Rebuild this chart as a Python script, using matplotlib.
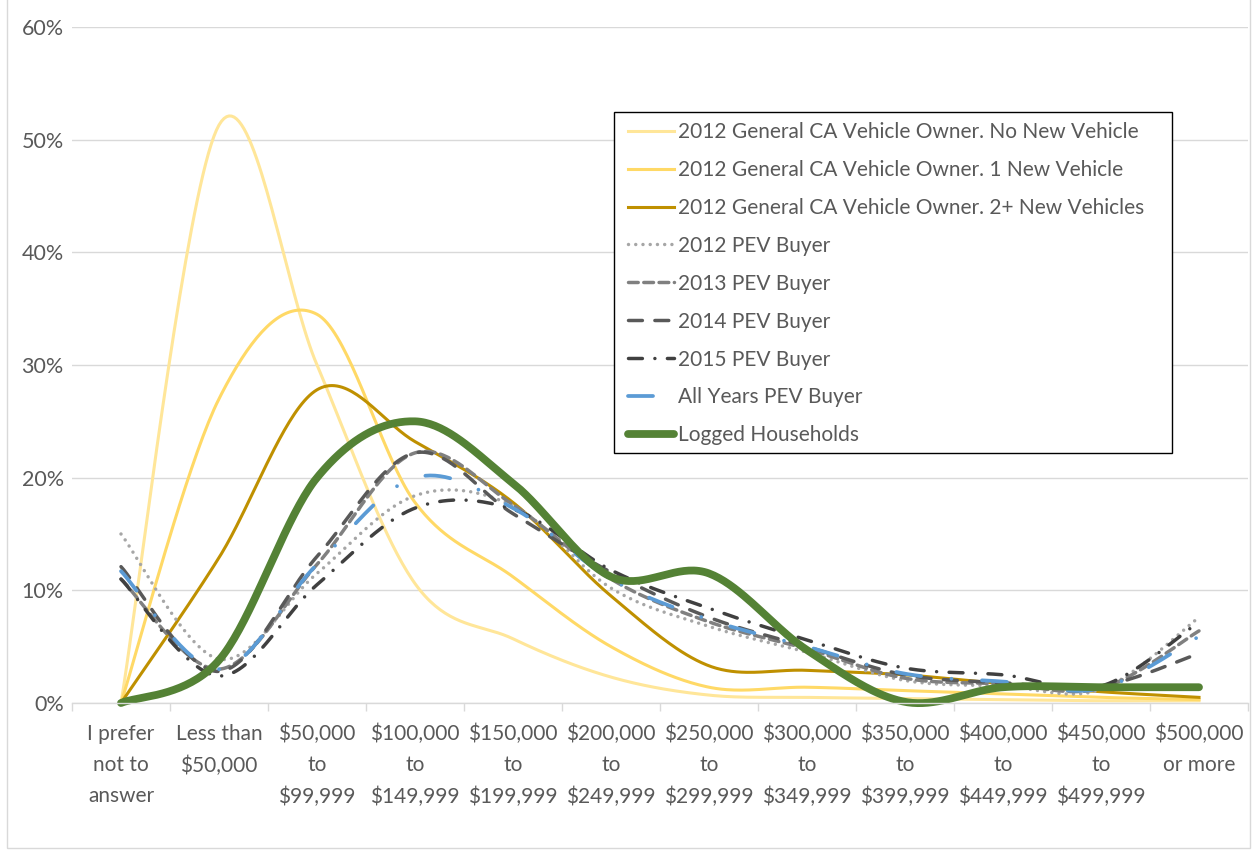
import numpy as np
import matplotlib
matplotlib.use("Agg")
import matplotlib.pyplot as plt
from matplotlib.lines import Line2D
from matplotlib.patches import Rectangle

plt.rcParams['font.family'] = ['Lato', 'DejaVu Sans']
plt.rcParams['lines.scale_dashes'] = False

categories = ["I prefer\nnot to\nanswer", "Less than\n$50,000", "$50,000\nto\n$99,999",
              "$100,000\nto\n$149,999", "$150,000\nto\n$199,999", "$200,000\nto\n$249,999",
              "$250,000\nto\n$299,999", "$300,000\nto\n$349,999", "$350,000\nto\n$399,999",
              "$400,000\nto\n$449,999", "$450,000\nto\n$499,999", "$500,000\nor more"]

no_new = [0.0, 51.3, 30.0, 10.6, 5.7, 2.3, 0.7, 0.5, 0.4, 0.3, 0.2, 0.2]
one_new = [0.0, 27.0, 34.5, 17.8, 11.2, 5.0, 1.4, 1.4, 1.1, 0.8, 0.5, 0.3]
two_new = [0.0, 12.9, 27.8, 23.2, 17.8, 9.5, 3.3, 2.9, 2.5, 1.7, 1.0, 0.5]
pev_2012 = [15.0, 3.9, 11.5, 18.4, 17.5, 10.2, 6.8, 4.5, 2.0, 1.5, 1.2, 7.6]
pev_2013 = [11.0, 3.0, 12.3, 22.2, 17.6, 11.0, 7.2, 4.8, 2.2, 1.7, 1.3, 6.4]
pev_2014 = [12.1, 2.8, 13.0, 22.2, 16.8, 11.6, 7.6, 5.0, 2.5, 1.8, 1.5, 4.4]
pev_2015 = [11.0, 2.4, 10.5, 17.3, 17.2, 11.8, 8.4, 5.6, 3.1, 2.5, 1.5, 7.2]
pev_all = [11.7, 3.0, 12.3, 20.0, 17.3, 11.0, 7.4, 5.0, 2.6, 1.9, 1.3, 5.9]
logged = [0.0, 3.8, 20.0, 25.0, 19.5, 11.2, 11.5, 4.7, 0.1, 1.4, 1.4, 1.4]

series_names = ["2012 General CA Vehicle Owner. No New Vehicle",
                "2012 General CA Vehicle Owner. 1 New Vehicle",
                "2012 General CA Vehicle Owner. 2+ New Vehicles",
                "2012 PEV Buyer", "2013 PEV Buyer", "2014 PEV Buyer",
                "2015 PEV Buyer", "All Years PEV Buyer", "Logged Households"]
series_values = [no_new, one_new, two_new, pev_2012, pev_2013, pev_2014,
                 pev_2015, pev_all, logged]

styles = [
    dict(color="#FFE699", lw=2.2, ls="-"),
    dict(color="#FFD966", lw=2.2, ls="-"),
    dict(color="#BF9000", lw=2.2, ls="-"),
    dict(color="#A6A6A6", lw=2.5, ls=(0, (0.01, 5.2)), dash_capstyle="round"),
    dict(color="#808080", lw=2.5, ls=(0, (7, 4)), dash_capstyle="round"),
    dict(color="#595959", lw=2.5, ls=(0, (10, 9)), dash_capstyle="round"),
    dict(color="#404040", lw=2.5, ls=(0, (10, 9, 0.01, 9)), dash_capstyle="round"),
    dict(color="#5B9BD5", lw=2.7, ls=(0, (18, 22, 0.01, 22)), dash_capstyle="round"),
    dict(color="#548235", lw=5.6, ls="-", solid_capstyle="round"),
]


def smooth(xs, ys, n=40):
    pts = np.column_stack([xs, ys]).astype(float)
    out = []
    m = len(pts)
    for i in range(m - 1):
        p0 = pts[i - 1] if i > 0 else pts[i]
        p1 = pts[i]
        p2 = pts[i + 1]
        p3 = pts[i + 2] if i + 2 < m else pts[i + 1]
        c1 = p1 + (p2 - p0) / 6.0
        c2 = p2 - (p3 - p1) / 6.0
        t = np.linspace(0, 1, n)[:, None]
        seg = ((1 - t) ** 3) * p1 + 3 * ((1 - t) ** 2) * t * c1 + 3 * (1 - t) * t ** 2 * c2 + t ** 3 * p2
        out.append(seg if i == 0 else seg[1:])
    return np.vstack(out)


W, H = 1252, 851
fig = plt.figure(figsize=(W / 100, H / 100), dpi=100)
ax = fig.add_axes([72 / W, 1 - 703 / H, (1248 - 72) / W, (703 - 27) / H])

x = np.arange(len(categories))
handles = []
for name, vals, st in zip(series_names, series_values, styles):
    curve = smooth(x, vals)
    ax.plot(curve[:, 0], curve[:, 1], label=name, clip_on=False, **st)
    handles.append(Line2D([], [], **st))

ax.set_xlim(-0.5, len(categories) - 0.5)
ax.set_ylim(0, 60)
ax.set_yticks(np.arange(0, 61, 10))
ax.set_yticklabels([f"{v}%" for v in range(0, 61, 10)])
ax.set_xticks(x)
ax.set_xticklabels(categories, linespacing=1.7)
ax.set_xticks(np.arange(-0.5, len(categories), 1), minor=True)
ax.tick_params(axis='x', which='major', length=0, pad=15, labelsize=15, labelcolor="#595959")
ax.tick_params(axis='x', which='minor', length=6, color="#D9D9D9", width=1)
ax.tick_params(axis='y', length=0, pad=6, labelsize=15.5, labelcolor="#595959")
ax.grid(axis='y', color="#D9D9D9", lw=1)
ax.set_axisbelow(True)
for s in ['left', 'right', 'top']:
    ax.spines[s].set_visible(False)
ax.spines['bottom'].set_color("#D9D9D9")
ax.spines['bottom'].set_linewidth(1)

# legend box drawn separately at the reference position
fig.patches.append(Rectangle((614 / W, 1 - 453 / H), (1172 - 614) / W, (453 - 112) / H,
                             transform=fig.transFigure, facecolor="white",
                             edgecolor="#000000", lw=1.0, zorder=4))
leg = fig.legend(handles, series_names, loc='upper left',
                 bbox_to_anchor=(628 / W, 1 - 122 / H), bbox_transform=fig.transFigure,
                 borderaxespad=0, frameon=False, fontsize=15,
                 handlelength=2.2, handletextpad=0.2, labelspacing=0.86,
                 borderpad=0.0, labelcolor="#595959")
leg.set_zorder(5)

fig.patches.append(Rectangle((7 / W, 3 / H), (1250 - 7) / W, 1.0, transform=fig.transFigure,
                             fill=False, edgecolor="#D9D9D9", lw=1, clip_on=False))

fig.savefig("out.png", dpi=100)
